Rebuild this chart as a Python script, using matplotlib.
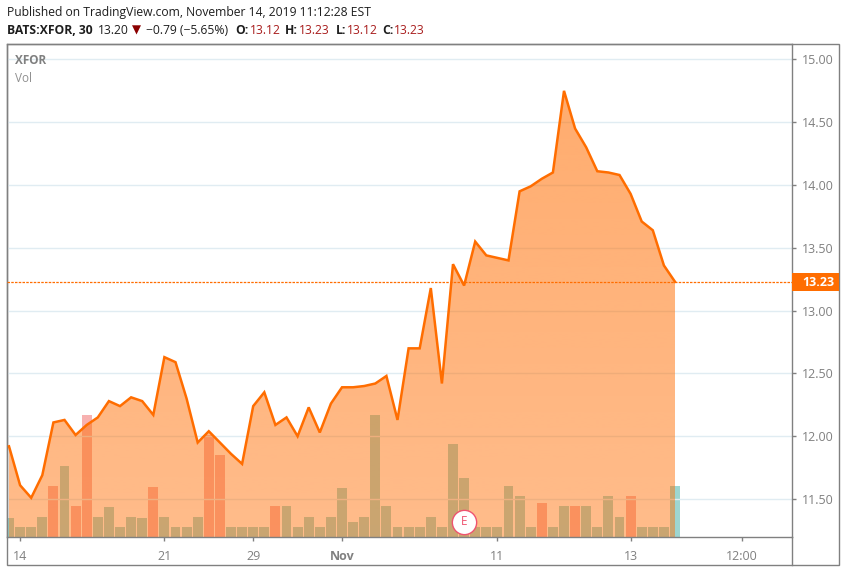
# XFOR 30 minute area chart with volume, TradingView style
import numpy as np
import matplotlib
matplotlib.use('Agg')
import matplotlib.pyplot as plt
from matplotlib.patches import Rectangle

W, H = 846, 572

# close price per bar
prices = [11.92, 11.61, 11.51, 11.69, 12.11, 12.13, 12.01, 12.09, 12.15, 12.28,
          12.24, 12.31, 12.28, 12.17, 12.63, 12.59, 12.30, 11.95, 12.04, 11.95,
          11.86, 11.78, 12.24, 12.35, 12.09, 12.15, 12.00, 12.23, 12.03, 12.26,
          12.39, 12.39, 12.40, 12.42, 12.48, 12.13, 12.70, 12.70, 13.18, 12.42,
          13.37, 13.20, 13.55, 13.44, 13.42, 13.40, 13.95, 13.99, 14.05, 14.10,
          14.75, 14.45, 14.30, 14.11, 14.10, 14.08, 13.93, 13.71, 13.64, 13.36,
          13.23]

# volume per bar (estimated, no volume scale on the chart)
volumes = [190, 100, 100, 200, 510, 710, 310, 1220, 200, 300,
           100, 200, 190, 500, 200, 100, 100, 200, 1020, 820,
           100, 100, 100, 100, 310, 310, 100, 200, 100, 200,
           490, 150, 200, 1220, 310, 100, 100, 100, 200, 100,
           930, 590, 100, 100, 100, 510, 410, 100, 340, 100,
           310, 310, 310, 100, 410, 200, 410, 100, 100, 100,
           510]

# bars drawn in the "down" colour
down_bars = [4, 6, 7, 13, 18, 19, 24, 48, 51, 56]

time_ticks = [1, 14, 22, 30, 44, 56, 66]
time_labels = ['14', '21', '29', 'Nov', '11', '13', '12:00']
price_ticks = [11.5, 12.0, 12.5, 13.0, 13.5, 14.0, 14.5, 15.0]
last_price = 13.23
earnings_bar = 41

ORANGE = '#ff6d00'
GREY = '#808080'
TEXT_FONT = 'Open Sans'

plt.rcParams['font.family'] = [TEXT_FONT, 'DejaVu Sans']


def px_rect(x0, y0, x1, y1):
    """Figure rect from pixel edges, y measured from the top"""
    return [x0 / W, 1 - y1 / H, (x1 - x0) / W, (y1 - y0) / H]


def px_text(x, y, s, **kwargs):
    return fig.text(x / W, 1 - y / H, s, va='center', ha='left', **kwargs)


fig = plt.figure(figsize=(W / 100, H / 100), dpi=100, facecolor='white')

# Volume sits below the price pane
rect = px_rect(6.5, 43.5, 792, 537)
vol_ax = fig.add_axes(rect, zorder=1)
ax = fig.add_axes(rect, zorder=2)
ax.patch.set_visible(False)

x = np.arange(len(prices))
xlim = (-0.225, 70.54)
ylim = (11.198, 15.127)

bar_colors = ['#ef5350' if i in down_bars else '#26a69a' for i in x]
vol_ax.bar(x, volumes, width=0.9, color=bar_colors, alpha=0.45, linewidth=0)
vol_ax.set_xlim(xlim)
vol_ax.set_ylim(0, 4935)
vol_ax.set_axis_off()

# Grid
ax.set_axisbelow(True)
ax.yaxis.grid(True, color='#e0ecf2', linewidth=1, zorder=0.5)
ax.xaxis.grid(False)

# Area with a soft vertical gradient, clipped to the price polygon
poly = ax.fill_between(x, prices, ylim[0], color='none', linewidth=0)
grad = np.zeros((256, 1, 4))
grad[..., 0] = 1.0
grad[..., 1] = 109 / 255
grad[..., 2] = 0.0
grad[..., 3] = np.linspace(0.58, 0.46, 256)[:, None]
img = ax.imshow(grad, extent=(xlim[0], xlim[1], ylim[0], ylim[1]), origin='upper',
                aspect='auto', zorder=2, interpolation='bilinear')
img.set_clip_path(poly.get_paths()[0], ax.transData)

ax.plot(x, prices, color=ORANGE, linewidth=1.8, zorder=3, solid_joinstyle='miter')
ax.axhline(last_price, color=ORANGE, linewidth=0.9, linestyle=(0, (2, 1)), zorder=3)

ax.set_xlim(xlim)
ax.set_ylim(ylim)

# Earnings marker
ax.plot([earnings_bar], [11.318], marker='o', markersize=17.5, markerfacecolor='white',
        markeredgecolor='#ef5370', markeredgewidth=1, zorder=5, linestyle='none')
ax.text(earnings_bar, 11.318, 'E', color='#ef5370', fontsize=8.5, ha='center',
        va='center', zorder=6)

# Axes styling
for side in ax.spines:
    ax.spines[side].set_color('#808080')
    ax.spines[side].set_linewidth(1)
ax.yaxis.tick_right()
ax.set_yticks(price_ticks)
ax.set_yticklabels([f'{p:.2f}' for p in price_ticks])
ax.set_xticks(time_ticks)
ax.set_xticklabels(time_labels)
ax.tick_params(axis='y', length=3, width=1, color='#808080', labelcolor=GREY,
               labelsize=9, pad=4)
ax.tick_params(axis='x', length=3, width=1, color='#808080', labelcolor=GREY,
               labelsize=9, pad=6)
ax.get_xticklabels()[time_labels.index('Nov')].set_fontweight('bold')

# Outer frame around the price and time scales
fig.add_artist(Rectangle((6.5 / W, 1 - 565 / H), (839 - 6.5) / W, (565 - 43.5) / H,
                         transform=fig.transFigure, fill=False, edgecolor='#808080',
                         linewidth=1))
fig.add_artist(plt.Line2D([792 / W, 792 / W], [1 - 565 / H, 1 - 537 / H],
                          transform=fig.transFigure, color='#808080', linewidth=1))

# Last price tag
fig.add_artist(Rectangle((792 / W, 1 - 291 / H), 47 / W, 18 / H, transform=fig.transFigure,
                         facecolor=ORANGE, edgecolor='none', zorder=5))
px_text(802, 282, f'{last_price:.2f}', color='white', fontsize=9, fontweight='bold', zorder=6)

# Pane legend
px_text(15, 61, 'XFOR', color='#808080', fontsize=8.5, fontweight='bold', zorder=6)
px_text(15, 78, 'Vol', color='#909090', fontsize=8.5, zorder=6)

# Header
DARK = '#1e1e1e'
RED = '#a81c1c'
HEAD_SIZE = 8.7
px_text(7, 12.5, 'Published on TradingView.com, November 14, 2019 11:12:28 EST',
        color=DARK, fontsize=HEAD_SIZE)
px_text(7, 30, 'BATS:XFOR, 30', color=DARK, fontsize=HEAD_SIZE, fontweight='bold')
px_text(98, 30, '13.20', color=DARK, fontsize=HEAD_SIZE)
px_text(132, 30, '\u25bc', color='#8b0000', fontsize=8.5, family='DejaVu Sans')
px_text(146, 30, '\u22120.79 (\u22125.65%)', color=DARK, fontsize=HEAD_SIZE)
for lx, label, vx, value in [(235, 'O:', 250, '13.12'), (285, 'H:', 299, '13.23'),
                             (336, 'L:', 347, '13.12'), (382, 'C:', 394, '13.23')]:
    px_text(lx, 30, label, color=DARK, fontsize=HEAD_SIZE, fontweight='bold')
    px_text(vx, 30, value, color=RED, fontsize=HEAD_SIZE)

fig.savefig('out.png', dpi=100)
